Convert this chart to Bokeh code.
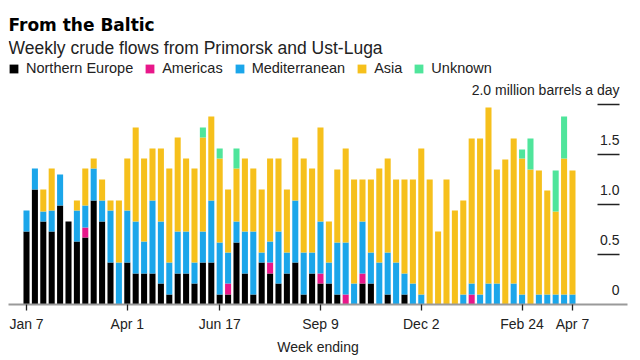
from bokeh.plotting import figure
from bokeh.models import FixedTicker, Label, Range1d, ColumnDataSource
from bokeh.core.properties import value
from bokeh.embed import file_html
from bokeh.resources import INLINE

# ---------------- data (million barrels a day, weekly) ----------------
tick_weeks = [0, 12, 23, 35, 47, 59, 65]
tick_labels = ["Jan 7", "Apr 1", "Jun 17", "Sep 9", "Dec 2", "Feb 24", "Apr 7"]

northern_europe = [0.73, 1.15, 0.83, 0.73, 0.99, 0.83, 0.63, 0.67, 1.04, 0.83,
                   0.42, 0.00, 0.42, 0.31, 0.31, 0.31, 0.21, 0.10, 0.31, 0.31,
                   0.21, 0.42, 0.42, 0.10, 0.10, 0.62, 0.31, 0.10, 0.42, 0.31,
                   0.21, 0.31, 0.42, 0.10, 0.31, 0.21, 0.21, 0.10, 0.00, 0.00,
                   0.21, 0.21, 0.00, 0.10, 0.00, 0.10, 0.00, 0.00, 0.00, 0.00,
                   0.00, 0.00, 0.00, 0.00, 0.00, 0.00, 0.00, 0.00, 0.00, 0.00,
                   0.00, 0.00, 0.00, 0.00, 0.00, 0.00]
americas = [0.00, 0.00, 0.00, 0.00, 0.00, 0.00, 0.00, 0.10, 0.00, 0.00,
            0.00, 0.00, 0.00, 0.00, 0.00, 0.00, 0.00, 0.00, 0.00, 0.00,
            0.00, 0.00, 0.00, 0.00, 0.11, 0.00, 0.00, 0.00, 0.00, 0.11,
            0.00, 0.00, 0.00, 0.00, 0.00, 0.10, 0.00, 0.00, 0.10, 0.00,
            0.10, 0.00, 0.00, 0.00, 0.00, 0.00, 0.00, 0.00, 0.00, 0.00,
            0.00, 0.00, 0.00, 0.10, 0.00, 0.00, 0.00, 0.00, 0.00, 0.00,
            0.00, 0.00, 0.00, 0.00, 0.00, 0.00]
mediterranean = [0.21, 0.21, 0.10, 0.21, 0.31, 0.00, 0.31, 0.22, 0.32, 0.21,
                 0.52, 0.42, 0.52, 0.52, 0.32, 0.73, 0.62, 0.32, 0.42, 0.42,
                 0.21, 0.31, 0.62, 0.52, 0.31, 0.21, 0.42, 0.63, 0.10, 0.21,
                 0.52, 0.21, 0.62, 0.42, 0.21, 0.52, 0.21, 0.52, 0.52, 0.21,
                 0.52, 0.31, 0.42, 0.42, 0.42, 0.21, 0.21, 0.10, 0.00, 0.00,
                 0.00, 0.00, 0.10, 0.11, 0.10, 0.21, 0.21, 0.00, 0.21, 0.10,
                 0.00, 0.10, 0.10, 0.10, 0.10, 0.10]
asia = [0.00, 0.00, 0.22, 0.42, 0.00, 0.00, 0.10, 0.37, 0.10, 0.21,
        0.10, 0.62, 0.52, 0.94, 0.83, 0.52, 0.73, 0.94, 0.94, 0.73,
        0.94, 0.94, 0.84, 0.84, 0.63, 0.53, 0.73, 0.63, 0.63, 0.83,
        0.73, 0.63, 0.63, 0.94, 0.84, 0.94, 0.41, 0.73, 0.94, 1.04,
        0.42, 0.73, 0.94, 0.94, 0.83, 0.94, 1.04, 1.46, 1.25, 0.73,
        1.25, 0.94, 0.94, 1.45, 1.56, 1.76, 1.14, 1.45, 1.45, 1.36,
        1.35, 1.24, 1.04, 0.83, 1.36, 1.24]
unknown = [0.00, 0.00, 0.00, 0.00, 0.00, 0.00, 0.00, 0.00, 0.00, 0.00,
           0.00, 0.00, 0.00, 0.00, 0.00, 0.00, 0.00, 0.00, 0.00, 0.00,
           0.00, 0.10, 0.00, 0.10, 0.00, 0.20, 0.00, 0.00, 0.00, 0.00,
           0.00, 0.00, 0.00, 0.00, 0.00, 0.00, 0.00, 0.00, 0.00, 0.00,
           0.00, 0.00, 0.00, 0.00, 0.00, 0.00, 0.00, 0.00, 0.00, 0.00,
           0.00, 0.00, 0.00, 0.00, 0.00, 0.00, 0.00, 0.00, 0.00, 0.09,
           0.31, 0.00, 0.00, 0.41, 0.42, 0.00]

series_names = ["Northern Europe", "Americas", "Mediterranean", "Asia", "Unknown"]
series_colors = ["#000000", "#e8178a", "#1ba6ea", "#f6c01c", "#4fe59b"]

y_ticks = [0.0, 0.5, 1.0, 1.5, 2.0]
y_tick_labels = ["0", "0.5", "1.0", "1.5", "2.0 million barrels a day"]

# ---------------- figure ----------------
FONT = "Liberation Sans"
weeks = list(range(len(asia)))
keys = ["ne", "am", "med", "asia", "unk"]
source = ColumnDataSource(dict(week=weeks, ne=northern_europe, am=americas,
                               med=mediterranean, asia=asia, unk=unknown))

p = figure(width=640, height=360, output_backend="svg", toolbar_location=None,
           x_range=Range1d(-2.143, 71.55), y_range=Range1d(0, 2.96),
           y_axis_location=None,
           min_border_left=8, min_border_right=13, min_border_top=8,
           min_border_bottom=56)
p.outline_line_color = None
p.grid.visible = False
p.background_fill_color = "white"
p.border_fill_color = "white"

p.vbar_stack(keys, x="week", width=0.72, color=series_colors, source=source,
             line_width=0, legend_label=series_names)

# x axis
ax = p.xaxis[0]
ax.ticker = FixedTicker(ticks=tick_weeks)
ax.major_label_overrides = {t: l for t, l in zip(tick_weeks, tick_labels)}
ax.axis_line_color = "#9a9a9a"
ax.axis_line_width = 2
ax.major_tick_line_color = "#222222"
ax.major_tick_line_width = 1.3
ax.major_tick_out = 6
ax.major_tick_in = 0
ax.minor_tick_line_color = None
ax.major_label_standoff = 5
ax.major_label_text_font = FONT
ax.major_label_text_font_size = "14px"
ax.major_label_text_color = "#222222"
ax.axis_label = "Week ending"
ax.axis_label_text_font = FONT
ax.axis_label_text_font_size = "14px"
ax.axis_label_text_font_style = "normal"
ax.axis_label_text_color = "#222222"
ax.axis_label_standoff = 4

# y ticks (labels above short lines, right side)
X_LAB_RIGHT = 70.6
X_LINE_LEFT = 67.98
p.text(x=[X_LAB_RIGHT] * len(y_ticks), y=y_ticks, text=y_tick_labels,
       text_align="right", text_baseline="alphabetic", y_offset=-14.5,
       text_font=value(FONT), text_font_size="14px", text_color="#222222")
yt = [t for t in y_ticks if t > 0]
p.segment(x0=[X_LINE_LEFT] * len(yt), y0=yt, x1=[X_LAB_RIGHT] * len(yt), y1=yt,
          line_color="#222222", line_width=1.5)

# title & subtitle
p.add_layout(Label(x=0, y=280, x_units="screen", y_units="screen",
                   text="From the Baltic", text_font="DejaVu Sans",
                   text_font_style="bold", text_font_size="17px",
                   text_baseline="alphabetic", text_color="#000000"))
p.add_layout(Label(x=0, y=256.5, x_units="screen", y_units="screen",
                   text="Weekly crude flows from Primorsk and Ust-Luga",
                   text_font=FONT, text_font_size="17.5px",
                   text_baseline="alphabetic", text_color="#222222"))

# legend
lg = p.legend[0]
lg.orientation = "horizontal"
lg.location = (0, 228)
lg.padding = 0
lg.margin = 0
lg.spacing = 11
lg.label_standoff = 7
lg.glyph_width = 11
lg.glyph_height = 11
lg.label_height = 11
lg.label_text_font = FONT
lg.label_text_font_size = "14.5px"
lg.label_text_color = "#222222"
lg.border_line_color = None
lg.background_fill_alpha = 0

open("out.html", "w").write(file_html(p, INLINE))
